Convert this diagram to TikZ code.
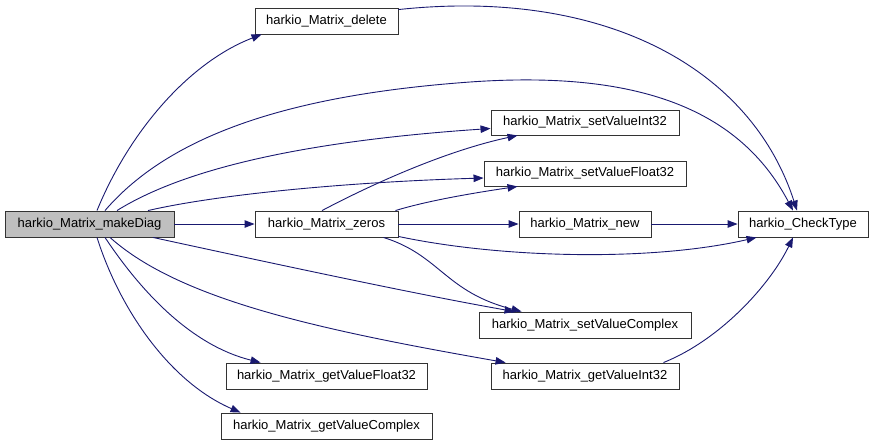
\documentclass[tikz,border=0pt]{standalone}
\usepackage{fontspec}
\setmainfont{Liberation Sans}
\usetikzlibrary{arrows.meta}
\definecolor{edgeblue}{HTML}{191970}
\definecolor{boxgray}{HTML}{BFBFBF}
\tikzset{
  fn/.style={draw=black!80, line width=0.9pt, fill=white, minimum height=26pt, inner sep=0pt,
    font=\fontsize{13}{15}\selectfont},
  cur/.style={fn, fill=boxgray},
  call/.style={draw=edgeblue, line width=0.9pt, -{Triangle[length=10pt,width=7.5pt]}}
}
\begin{document}
\begin{tikzpicture}[x=1pt,y=-1pt]
\useasboundingbox (0,0) rectangle (875,445);
\node[cur, minimum width=169pt] (md) at (89.5,224) {harkio\_Matrix\_makeDiag};
\node[fn, minimum width=143pt] (del) at (326.5,21) {harkio\_Matrix\_delete};
\node[fn, minimum width=143pt] (zer) at (326.5,224) {harkio\_Matrix\_zeros};
\node[fn, minimum width=201pt] (gvf) at (326.5,376) {harkio\_Matrix\_getValueFloat32};
\node[fn, minimum width=211pt] (gvc) at (326.5,426) {harkio\_Matrix\_getValueComplex};
\node[fn, minimum width=188pt, minimum height=25pt] (svi) at (585,122.5) {harkio\_Matrix\_setValueInt32};
\node[fn, minimum width=202pt, minimum height=25pt] (svf) at (585,173.5) {harkio\_Matrix\_setValueFloat32};
\node[fn, minimum width=132pt] (new) at (585,224) {harkio\_Matrix\_new};
\node[fn, minimum width=212pt] (svc) at (585,325) {harkio\_Matrix\_setValueComplex};
\node[fn, minimum width=188pt] (gvi) at (585,376) {harkio\_Matrix\_getValueInt32};
\node[fn, minimum width=130pt] (ct) at (803,224) {harkio\_CheckType};

% from makeDiag
\draw[call] ([xshift=7.5pt]md.north) .. controls (130,130) and (190,62) .. ([xshift=7pt]del.south west);
\draw[call] ([xshift=15.5pt]md.north) .. controls (170,135) and (290,95) .. (470,82)
  .. controls (640,70) and (740,110) .. ([xshift=-10pt]ct.north);
\draw[call] ([xshift=27.5pt]md.north) .. controls (190,165) and (320,140) .. ([yshift=-6pt]svi.west);
\draw[call] ([xshift=58.5pt]md.north) .. controls (220,194) and (350,182) .. ([yshift=-4.5pt]svf.west);
\draw[call] (md.east) -- (zer.west);
\draw[call] ([xshift=63.5pt]md.south) .. controls (280,265) and (420,295) .. ([xshift=36pt]svc.north west);
\draw[call] ([xshift=20.5pt]md.south) .. controls (180,300) and (320,330) .. ([xshift=15pt]gvi.north west);
\draw[call] ([xshift=15.5pt]md.south) .. controls (140,290) and (190,345) .. ([xshift=35pt]gvf.north west);
\draw[call] ([xshift=7.5pt]md.south) .. controls (120,310) and (170,382) .. ([xshift=20pt]gvc.north west);

% from delete
\draw[call] ([yshift=-2pt]del.north east) .. controls (600,-12) and (750,65) .. ([xshift=-6pt]ct.north);

% from zeros
\draw[call] ([xshift=-4.5pt]zer.north) .. controls (380,180) and (450,150) .. ([xshift=27pt]svi.south west);
\draw[call] ([xshift=-3pt]zer.north east) .. controls (430,200) and (480,192) .. ([xshift=34pt]svf.south west);
\draw[call] (zer.east) -- (new.west);
\draw[call] ([yshift=1pt]zer.south east) .. controls (500,258) and (650,262) .. ([xshift=19pt]ct.south west);
\draw[call] ([xshift=-15pt]zer.south east) .. controls (440,255) and (445,292) .. ([xshift=43pt]svc.north west);

% others
\draw[call] (new.east) -- (ct.west);
\draw[call] ([xshift=-16pt]gvi.north east) .. controls (720,340) and (770,285) .. ([xshift=-10pt]ct.south);
\end{tikzpicture}
\end{document}
